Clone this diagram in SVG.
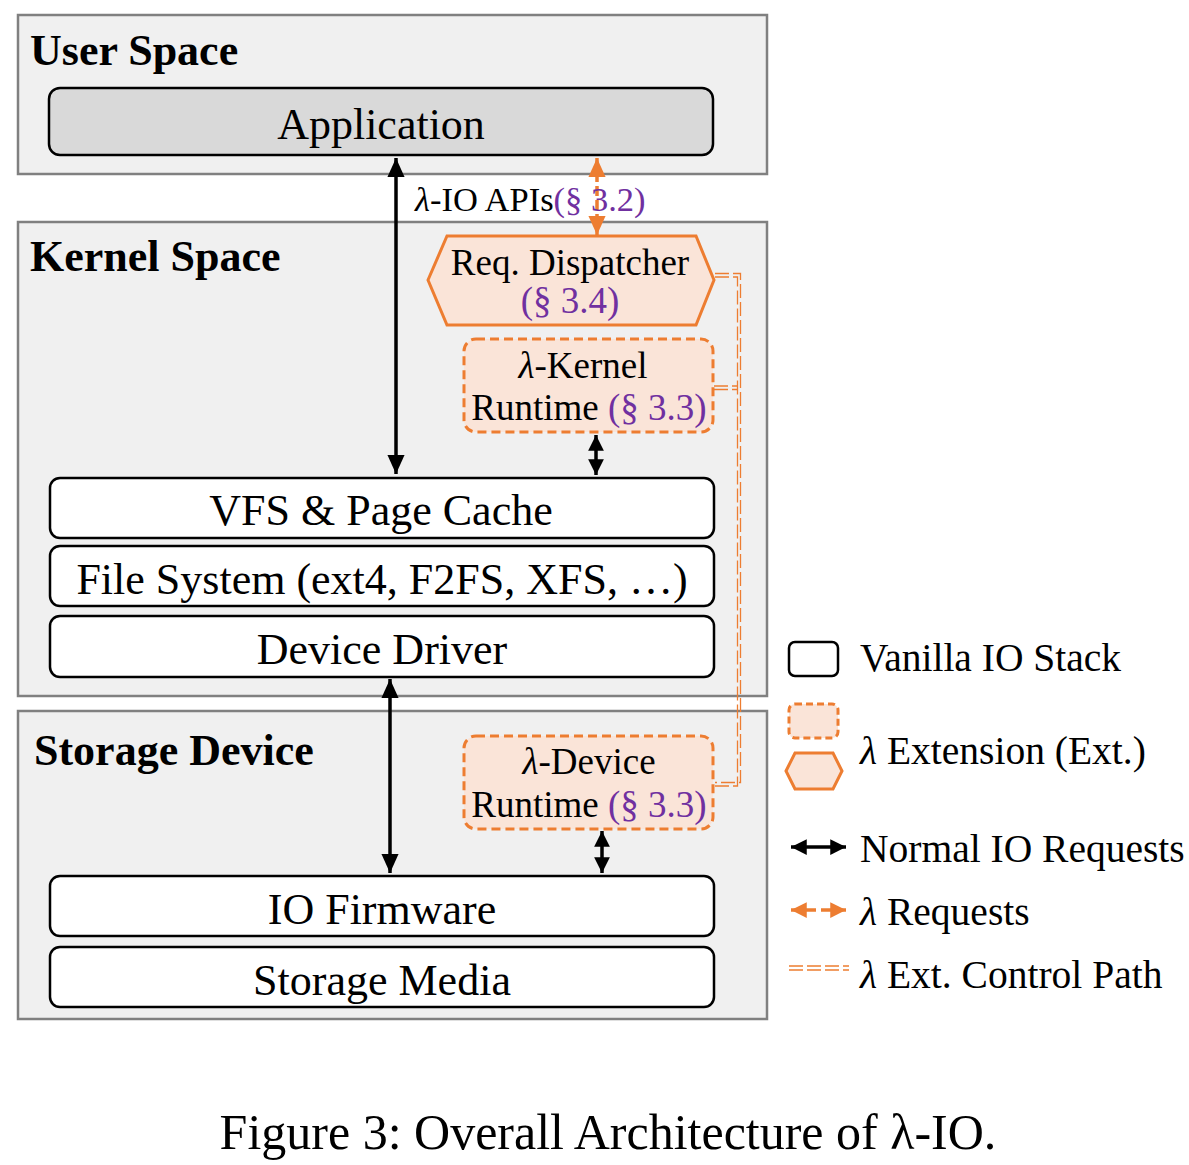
<svg xmlns="http://www.w3.org/2000/svg" width="1189" height="1165" viewBox="0 0 1189 1165">
<defs>
<style>
text{font-family:"Liberation Serif","Times New Roman",serif;fill:#000}
.panel{fill:#f0f0f0;stroke:#808080;stroke-width:2.5}
.title{font-weight:bold;font-size:44px}
.box{fill:#fff;stroke:#000;stroke-width:2.5}
.app{fill:#d9d9d9;stroke:#000;stroke-width:2.5}
.lbl{font-size:44px;text-anchor:middle}
.ext{fill:#fae4d8;stroke:#ed7d31;stroke-width:3}
.dash{stroke-dasharray:9 5}
.sm{font-size:37px;text-anchor:middle}
.ref{fill:#7030a0}
.blk{stroke:#000;stroke-width:3.5;fill:none}
.org{stroke:#ed7d31;stroke-width:3.5;fill:none}
.ctl{stroke:#ed7d31;stroke-width:1.3;fill:none;stroke-dasharray:14 4}
.leg{font-size:39.5px}
.lam{font-style:italic}
</style>
<marker id="ab" viewBox="0 0 10 10" refX="10" refY="5" markerWidth="5.5" markerHeight="5.5" orient="auto-start-reverse" markerUnits="strokeWidth"><path d="M0,0.5 L10,5 L0,9.5 z" fill="#000"/></marker>
<marker id="ao" viewBox="0 0 10 10" refX="10" refY="5" markerWidth="5.5" markerHeight="5.5" orient="auto-start-reverse" markerUnits="strokeWidth"><path d="M0,0.5 L10,5 L0,9.5 z" fill="#ed7d31"/></marker>
<marker id="abs" viewBox="0 0 10 10" refX="10" refY="5" markerWidth="4.5" markerHeight="4.5" orient="auto-start-reverse" markerUnits="strokeWidth"><path d="M0,0 L10,5 L0,10 z" fill="#000"/></marker>
<marker id="aos" viewBox="0 0 10 10" refX="10" refY="5" markerWidth="4.5" markerHeight="4.5" orient="auto-start-reverse" markerUnits="strokeWidth"><path d="M0,0 L10,5 L0,10 z" fill="#ed7d31"/></marker>
</defs>
<rect width="1189" height="1165" fill="#fff"/>

<g id="panel-user"><rect class="panel" x="18" y="15" width="749" height="159"/><text class="title" x="30" y="65">User Space</text></g>
<g id="panel-kernel"><rect class="panel" x="18" y="222" width="749" height="474"/><text class="title" x="30" y="271">Kernel Space</text></g>
<g id="panel-storage"><rect class="panel" x="18" y="711" width="749" height="308"/><text class="title" x="34" y="765">Storage Device</text></g>

<g id="application"><rect class="app" x="49" y="88" width="664" height="67" rx="11"/><text class="lbl" x="381" y="139">Application</text></g>
<g id="vfs"><rect class="box" x="50" y="478" width="664" height="60" rx="10"/><text class="lbl" x="381" y="525">VFS &amp; Page Cache</text></g>
<g id="filesystem"><rect class="box" x="50" y="546" width="664" height="60" rx="10"/><text class="lbl" x="382" y="594">File System (ext4, F2FS, XFS, …)</text></g>
<g id="driver"><rect class="box" x="50" y="616" width="664" height="61" rx="10"/><text class="lbl" x="382" y="664">Device Driver</text></g>
<g id="firmware"><rect class="box" x="50" y="876" width="664" height="60" rx="10"/><text class="lbl" x="382" y="924">IO Firmware</text></g>
<g id="media"><rect class="box" x="50" y="947" width="664" height="60" rx="10"/><text class="lbl" x="382" y="995">Storage Media</text></g>

<g id="dispatcher"><polygon class="ext" points="428,280 447,236 696,236 714,280 696,325 447,325"/><text class="sm" x="570" y="275" font-size="39">Req. Dispatcher</text><text class="sm ref" x="570" y="313">(§ 3.4)</text></g>
<g id="kernel-runtime"><rect class="ext dash" x="464" y="339" width="249" height="93" rx="12"/><text class="sm" x="583" y="378"><tspan class="lam">λ</tspan>-Kernel</text><text class="sm" x="589" y="420">Runtime <tspan class="ref">(§ 3.3)</tspan></text></g>
<g id="device-runtime"><rect class="ext dash" x="464" y="736" width="249" height="93" rx="12"/><text class="sm" x="589" y="774"><tspan class="lam">λ</tspan>-Device</text><text class="sm" x="589" y="817">Runtime <tspan class="ref">(§ 3.3)</tspan></text></g>

<g id="connectors">
<line class="blk" x1="396" y1="158" x2="396" y2="474" marker-start="url(#ab)" marker-end="url(#ab)"/>
<line class="blk" x1="390" y1="679" x2="390" y2="873" marker-start="url(#ab)" marker-end="url(#ab)"/>
<line class="blk" x1="596" y1="435" x2="596" y2="475" marker-start="url(#abs)" marker-end="url(#abs)"/>
<line class="blk" x1="602" y1="831" x2="602" y2="873" marker-start="url(#abs)" marker-end="url(#abs)"/>
<line class="org" x1="597" y1="158" x2="597" y2="235" stroke-dasharray="10 4" marker-start="url(#ao)" marker-end="url(#ao)"/>
<path class="ctl" d="M715,273.5 H740.5 V782.5 H715"/>
<path class="ctl" d="M715,277 H737.5 V786 H715"/>
<path class="ctl" d="M714,386 H737.5"/>
<path class="ctl" d="M714,389.5 H737.5"/>
<text x="415" y="211" font-size="34.5"><tspan class="lam">λ</tspan>-IO APIs<tspan class="ref">(§ 3.2)</tspan></text>
</g>

<g id="legend">
<rect x="789" y="642" width="49" height="34" rx="6" fill="#fff" stroke="#000" stroke-width="2.5"/>
<text class="leg" x="860" y="671">Vanilla IO Stack</text>
<rect class="ext dash" x="789" y="704" width="49" height="34" rx="6" style="stroke-dasharray:7 4"/>
<polygon class="ext" points="786,771 795,753 833,753 842,771 833,789 795,789"/>
<text class="leg" x="860" y="764"><tspan class="lam">λ</tspan> Extension (Ext.)</text>
<line class="blk" x1="791" y1="847" x2="846" y2="847" marker-start="url(#abs)" marker-end="url(#abs)"/>
<text class="leg" x="860" y="862">Normal IO Requests</text>
<line class="org" x1="791" y1="910" x2="846" y2="910" stroke-dasharray="10 5" marker-start="url(#aos)" marker-end="url(#aos)"/>
<text class="leg" x="860" y="925"><tspan class="lam">λ</tspan> Requests</text>
<path class="ctl" d="M789,966 H849 M789,970 H849" style="stroke-dasharray:14 4"/>
<text class="leg" x="860" y="988"><tspan class="lam">λ</tspan> Ext. Control Path</text>
</g>

<text x="608" y="1149" font-size="50" text-anchor="middle">Figure 3: Overall Architecture of λ-IO.</text>
</svg>
